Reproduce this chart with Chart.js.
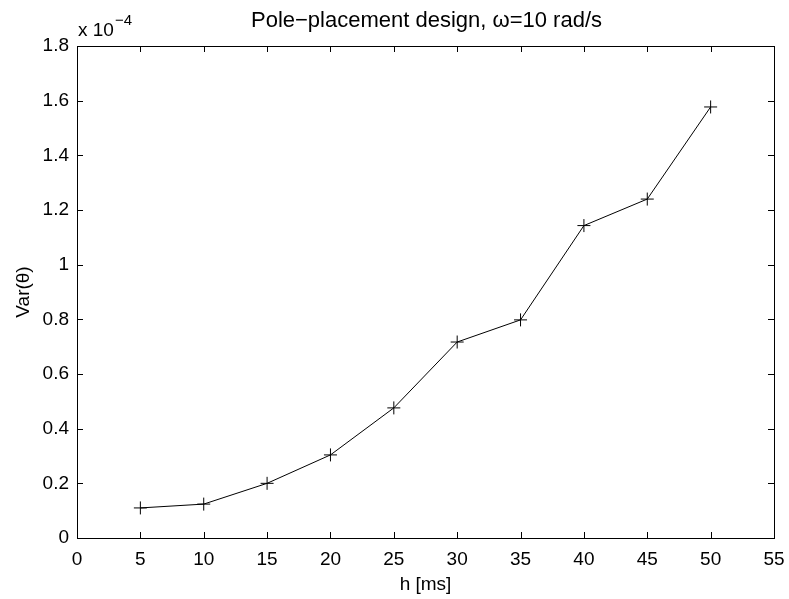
<!DOCTYPE html>
<html>
<head>
<meta charset="utf-8">
<script src="https://cdn.jsdelivr.net/npm/chart.js@4/dist/chart.umd.min.js"></script>
<style>
  html, body { margin: 0; padding: 0; background: #fff; }
  #wrap { width: 789px; height: 599px; }
</style>
</head>
<body>
<div id="wrap"><canvas id="c"></canvas></div>
<script>
// sampling period h [ms]
const hValues = [5, 10, 15, 20, 25, 30, 35, 40, 45, 50];
// Var(theta), in units of 1e-4
const varTheta = [0.110, 0.124, 0.200, 0.304, 0.476, 0.717, 0.798, 1.143, 1.240, 1.577];

const xTicks = [0, 5, 10, 15, 20, 25, 30, 35, 40, 45, 50, 55];
const yTicks = [0, 0.2, 0.4, 0.6, 0.8, 1, 1.2, 1.4, 1.6, 1.8];
const yTickLabels = ['0', '0.2', '0.4', '0.6', '0.8', '1', '1.2', '1.4', '1.6', '1.8'];

const titleText = 'Pole\u2212placement design, \u03c9=10 rad/s';
const fontFam = '"Liberation Sans", Arial, Helvetica, sans-serif';

// box around the axes + inward ticks on all four sides, MATLAB style
// title is drawn here too so it sits centred over the axes, not the canvas
const boxPlugin = {
  id: 'box',
  afterDraw(chart) {
    const ctx = chart.ctx;
    const a = chart.chartArea;
    const xs = chart.scales.x, ys = chart.scales.y;
    const tl = 6;
    ctx.save();
    ctx.strokeStyle = '#000';
    ctx.lineWidth = 1;
    ctx.beginPath();
    xTicks.forEach(function(v) {
      const px = Math.round(xs.getPixelForValue(v)) + 0.5;
      ctx.moveTo(px, a.bottom); ctx.lineTo(px, a.bottom - tl);
      ctx.moveTo(px, a.top); ctx.lineTo(px, a.top + tl);
    });
    yTicks.forEach(function(v) {
      const py = Math.round(ys.getPixelForValue(v)) + 0.5;
      ctx.moveTo(a.left, py); ctx.lineTo(a.left + tl, py);
      ctx.moveTo(a.right, py); ctx.lineTo(a.right - tl, py);
    });
    ctx.stroke();
    ctx.strokeRect(Math.round(a.left) + 0.5, Math.round(a.top) + 0.5,
                   Math.round(a.right - a.left), Math.round(a.bottom - a.top));

    ctx.fillStyle = '#000';
    ctx.textBaseline = 'alphabetic';

    // title
    ctx.textAlign = 'center';
    ctx.font = '22px ' + fontFam;
    ctx.fillText(titleText, (a.left + a.right) / 2 + 1, 27);

    // exponent label
    ctx.textAlign = 'left';
    ctx.font = '19px ' + fontFam;
    const base = 'x 10';
    ctx.fillText(base, a.left + 1, a.top - 10);
    const w = ctx.measureText(base).width;
    ctx.font = '15px ' + fontFam;
    ctx.fillText('\u22124', a.left + 1 + w + 1, a.top - 21);
    ctx.restore();
  }
};

const config = {
  type: 'line',
  data: {
    datasets: [{
      data: hValues.map(function(h, i) { return {x: h, y: varTheta[i]}; }),
      borderColor: '#000',
      backgroundColor: '#000',
      borderWidth: 1,
      pointStyle: 'cross',
      pointRadius: 6.5,
      pointBorderWidth: 1,
      pointBorderColor: '#000',
      fill: false,
      tension: 0
    }]
  },
  options: {
    responsive: true,
    maintainAspectRatio: false,
    animation: false,
    layout: { padding: { left: 0, right: 15, top: 46, bottom: 0 } },
    plugins: {
      legend: { display: false },
      tooltip: { enabled: false },
      title: { display: false }
    },
    scales: {
      x: {
        type: 'linear',
        min: 0,
        max: 55,
        afterBuildTicks: function(s) { s.ticks = xTicks.map(function(v) { return {value: v}; }); },
        afterFit: function(s) { s.height = 61; s.paddingLeft = 0; s.paddingRight = 0; },
        grid: { display: false, drawTicks: false },
        border: { display: false },
        ticks: {
          color: '#000',
          padding: 10,
          maxRotation: 0,
          font: { family: fontFam, size: 19 }
        },
        title: {
          display: true,
          text: 'h [ms]',
          color: '#000',
          font: { family: fontFam, size: 19 },
          padding: { top: 0, bottom: 3 }
        }
      },
      y: {
        type: 'linear',
        min: 0,
        max: 1.8,
        afterBuildTicks: function(s) { s.ticks = yTicks.map(function(v) { return {value: v}; }); },
        afterFit: function(s) { s.width = 77; s.paddingTop = 0; s.paddingBottom = 0; },
        grid: { display: false, drawTicks: false },
        border: { display: false },
        ticks: {
          color: '#000',
          padding: 8,
          font: { family: fontFam, size: 19 },
          callback: function(value, index) { return yTickLabels[index]; }
        },
        title: {
          display: true,
          text: 'Var(\u03b8)',
          color: '#000',
          font: { family: fontFam, size: 19 },
          padding: { top: 12, bottom: 0 }
        }
      }
    }
  },
  plugins: [boxPlugin]
};

var ctx = document.getElementById('c');
var chart = new Chart(ctx, config);
</script>
</body>
</html>
